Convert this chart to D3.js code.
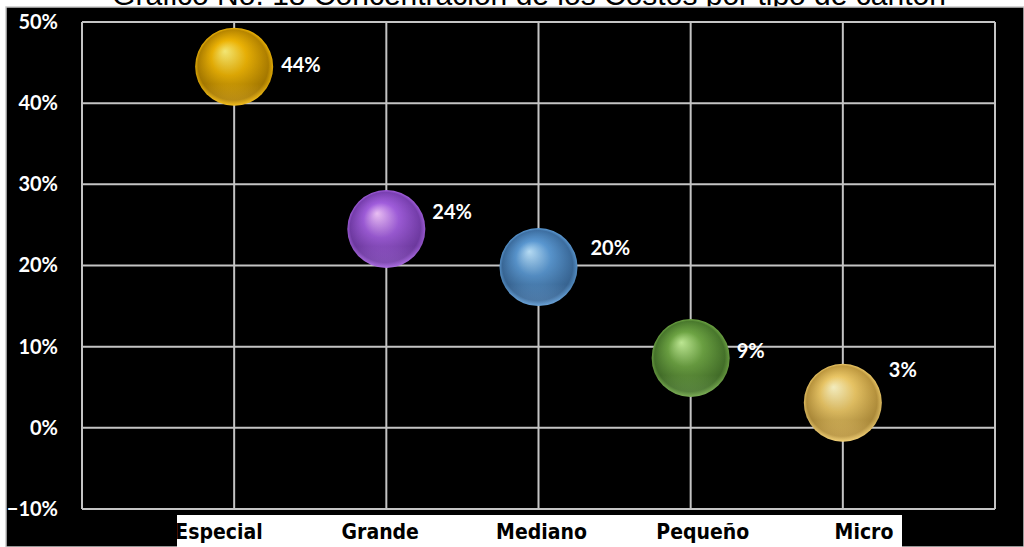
<!DOCTYPE html>
<html>
<head>
<meta charset="utf-8">
<script src="https://cdn.jsdelivr.net/npm/d3@7"></script>
<style>
  html, body { margin: 0; padding: 0; background: #ffffff; }
  svg { display: block; }
</style>
</head>
<body>
<svg id="chart" width="1024" height="547"></svg>
<script>
// ---- data ----
const categories = ["Especial", "Grande", "Mediano", "Pequeño", "Micro"];
const values = [0.445, 0.245, 0.198, 0.086, 0.031];
const valueLabels = ["44%", "24%", "20%", "9%", "3%"];
const yTicks = [-0.1, 0, 0.1, 0.2, 0.3, 0.4, 0.5];
const xTicks = [0, 1, 2, 3, 4, 5, 6];
const title = "Gráfico No. 18 Concentración de los Costos por tipo de cantón";

// ---- styles ----
const ballColors = [
  { hi: "#fff27a", base: "#f3b805", dark: "#b88600" },
  { hi: "#f5c8ff", base: "#a560e2", dark: "#7a40b2" },
  { hi: "#bfe6ff", base: "#5c9bd6", dark: "#3e70a3" },
  { hi: "#c6f29a", base: "#70a845", dark: "#4a7a2d" },
  { hi: "#fff8c8", base: "#f0cb68", dark: "#c09a40" }
];
const labelDx = [47, 46, 52, 46, 46];
const labelDy = [-3, -18, -20, -8, -34];

const svg = d3.select("#chart");
const W = 1024, H = 547;

// background
svg.append("rect").attr("x", 0).attr("y", 0).attr("width", W).attr("height", H).attr("fill", "#ffffff");

// title (mostly cut off at top)
svg.append("text").attr("x", 529).attr("y", 5)
  .attr("text-anchor", "middle")
  .attr("font-family", "'Liberation Sans', Arial, sans-serif")
  .attr("font-size", 30)
  .attr("fill", "#000")
  .text(title);

svg.append("rect").attr("x", 6).attr("y", 7).attr("width", W - 6).attr("height", H - 7)
  .attr("fill", "#000000").attr("stroke", "#c8c8c8").attr("stroke-width", 1.5);

// scales
const x = d3.scaleLinear().domain([0, 6]).range([82, 995]);
const y = d3.scaleLinear().domain([-0.1, 0.5]).range([509, 22]);

// gradients
const defs = svg.append("defs");
ballColors.forEach((c, i) => {
  const g = defs.append("radialGradient").attr("id", "ball" + i)
    .attr("cx", "50%").attr("cy", "50%").attr("r", "50%")
    .attr("fx", "38%").attr("fy", "30%");
  g.append("stop").attr("offset", "0%").attr("stop-color", c.hi);
  g.append("stop").attr("offset", "45%").attr("stop-color", c.base);
  g.append("stop").attr("offset", "90%").attr("stop-color", c.dark);
  g.append("stop").attr("offset", "100%").attr("stop-color", c.base);
});
const shade = defs.append("linearGradient").attr("id", "shade")
  .attr("x1", 0).attr("y1", 0).attr("x2", 0).attr("y2", 1);
shade.append("stop").attr("offset", "0%").attr("stop-color", "#000").attr("stop-opacity", 0);
shade.append("stop").attr("offset", "72%").attr("stop-color", "#000").attr("stop-opacity", 0.12);
shade.append("stop").attr("offset", "100%").attr("stop-color", "#fff").attr("stop-opacity", 0.1);

// grid
const grid = svg.append("g").attr("stroke", "#c4c4c4").attr("stroke-width", 2);
grid.selectAll("line.h").data(yTicks).join("line").attr("class", "h")
  .attr("x1", x(0)).attr("x2", x(6)).attr("y1", d => y(d)).attr("y2", d => y(d));
grid.selectAll("line.v").data(xTicks).join("line").attr("class", "v")
  .attr("x1", d => x(d)).attr("x2", d => x(d)).attr("y1", y(0.5)).attr("y2", y(-0.1));

// y axis labels
const yAxis = d3.axisLeft(y).tickValues(yTicks).tickFormat(d3.format(".0%")).tickSize(0).tickPadding(0);
const ya = svg.append("g").attr("transform", "translate(58,0)").call(yAxis);
ya.select(".domain").remove();
ya.selectAll("text")
  .attr("fill", "#fff")
  .attr("font-family", "Lato, 'Open Sans', sans-serif")
  .attr("font-weight", "bold")
  .attr("font-size", 20);

// balls
const pts = categories.map((c, i) => ({ c, v: values[i], i }));
svg.append("g").selectAll("circle.b").data(pts).join("circle").attr("class", "b")
  .attr("cx", d => x(d.i + 1)).attr("cy", d => y(d.v)).attr("r", 39)
  .attr("fill", d => "url(#ball" + d.i + ")");
svg.append("g").selectAll("circle.s").data(pts).join("circle").attr("class", "s")
  .attr("cx", d => x(d.i + 1)).attr("cy", d => y(d.v)).attr("r", 39)
  .attr("fill", "url(#shade)");

// value labels
svg.append("g").selectAll("text").data(pts).join("text")
  .attr("x", d => x(d.i + 1) + labelDx[d.i])
  .attr("y", d => y(d.v) + labelDy[d.i])
  .attr("dominant-baseline", "central")
  .attr("fill", "#fff")
  .attr("font-family", "Lato, 'Open Sans', sans-serif")
  .attr("font-weight", "bold")
  .attr("font-size", 20)
  .text(d => valueLabels[d.i]);

// category label row
svg.append("rect").attr("x", 177).attr("y", 515).attr("width", 725).attr("height", 32).attr("fill", "#fff");
const xc = d3.scalePoint().domain(categories).range([219, 864]);
svg.append("g").selectAll("text").data(categories).join("text")
  .attr("x", d => xc(d)).attr("y", 539)
  .attr("text-anchor", "middle")
  .attr("fill", "#000")
  .attr("font-family", "'Liberation Sans Narrow', 'DejaVu Sans Condensed', sans-serif")
  .attr("font-weight", "bold")
  .attr("font-size", 21)
  .text(d => d);
</script>
</body>
</html>
